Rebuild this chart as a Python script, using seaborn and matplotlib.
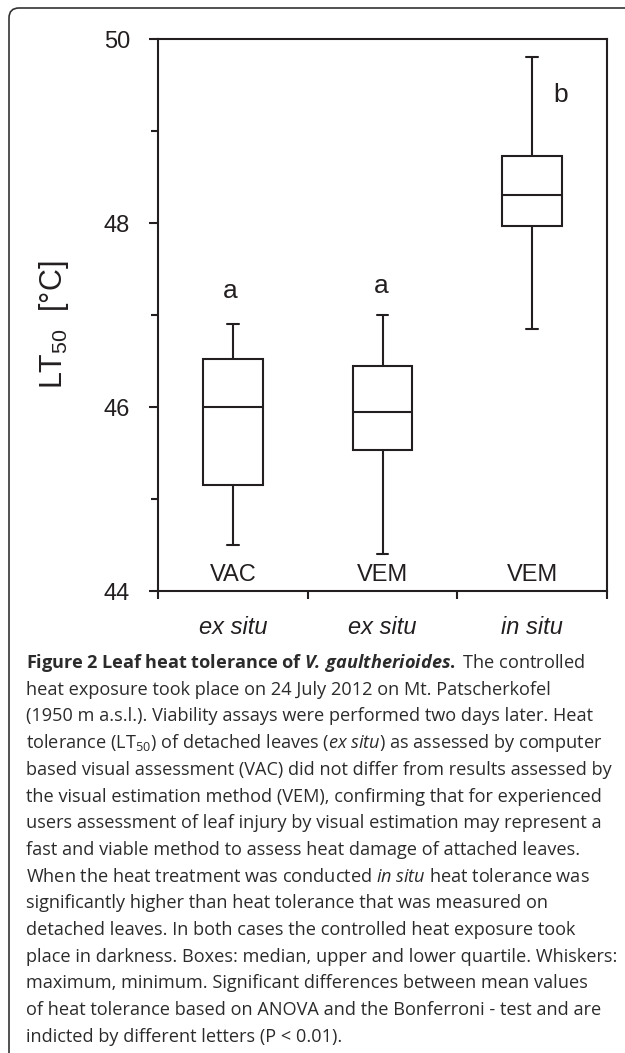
import numpy as np
import pandas as pd
import matplotlib
matplotlib.use("Agg")
import matplotlib.pyplot as plt
import seaborn as sns
from matplotlib.patches import FancyBboxPatch

# ---- data ----
groups = ["VAC ex situ", "VEM ex situ", "VEM in situ"]
situ_labels = ["ex situ", "ex situ", "in situ"]
method_labels = ["VAC", "VEM", "VEM"]
sig_letters = ["a", "a", "b"]

# min, lower quartile, median, upper quartile, max
vac_ex_situ = [44.50, 45.15, 46.00, 46.52, 46.90]
vem_ex_situ = [44.40, 45.53, 45.95, 46.45, 47.00]
vem_in_situ = [46.85, 47.97, 48.30, 48.73, 49.80]

letter_y = [47.18, 47.24, 49.32]
letter_dx = [-0.02, -0.01, 0.19]
method_y = 44.11

caption_lines = [
    r"$\mathbf{Figure\;2\;Leaf\;heat\;tolerance\;of\;}\mathbfit{V.\,gaultherioides}\mathbf{.}$ The controlled",
    "heat exposure took place on 24 July 2012 on Mt. Patscherkofel",
    "(1950 m a.s.l.). Viability assays were performed two days later. Heat",
    r"tolerance (LT$_\mathregular{50}$) of detached leaves ($\mathit{ex\;situ}$) as assessed by computer",
    "based visual assessment (VAC) did not differ from results assessed by",
    "the visual estimation method (VEM), confirming that for experienced",
    "users assessment of leaf injury by visual estimation may represent a",
    "fast and viable method to assess heat damage of attached leaves.",
    r"When the heat treatment was conducted $\mathit{in\;situ}$ heat tolerance was",
    "significantly higher than heat tolerance that was measured on",
    "detached leaves. In both cases the controlled heat exposure took",
    "place in darkness. Boxes: median, upper and lower quartile. Whiskers:",
    "maximum, minimum. Significant differences between mean values",
    "of heat tolerance based on ANOVA and the Bonferroni - test and are",
    "indicted by different letters (P < 0.01).",
]

df = pd.DataFrame({
    "group": np.repeat(groups, 5),
    "LT50": vac_ex_situ + vem_ex_situ + vem_in_situ,
})

# ---- style ----
sns.set_style("ticks")
ink = "#231f20"
cap_font = "Open Sans"
plt.rcParams["font.family"] = ["Liberation Sans", "DejaVu Sans"]
plt.rcParams["mathtext.fontset"] = "custom"
plt.rcParams["mathtext.rm"] = cap_font
plt.rcParams["mathtext.it"] = cap_font + ":italic"
plt.rcParams["mathtext.bf"] = cap_font + ":bold"
plt.rcParams["mathtext.bfit"] = cap_font + ":italic:bold"

W, H = 625, 1053
fig = plt.figure(figsize=(W / 100, H / 100), dpi=100)
ax = fig.add_axes([158 / W, 1 - 591 / H, 449 / W, 552 / H])

sns.boxplot(data=df, x="group", y="LT50", order=groups, whis=(0, 100),
            width=0.4, color="white", linecolor=ink, linewidth=1.5,
            fliersize=0, capwidths=0.08, ax=ax)

ax.set_xlim(-0.5, 2.5)
ax.set_ylim(44, 50)
ax.set_xlabel("")

for sp in ax.spines.values():
    sp.set_visible(True)
    sp.set_color(ink)
    sp.set_linewidth(1.5)

# y axis
ax.set_yticks([44, 46, 48, 50])
ax.set_yticks([45, 47, 49], minor=True)
ax.tick_params(axis="y", which="major", length=6.5, width=1.5, pad=13.7,
               labelsize=17, colors=ink)
ax.tick_params(axis="y", which="minor", length=5, width=1.5, colors=ink)
ax.set_ylabel("LT$_\\mathregular{50}$  [°C]", fontsize=22, color=ink)
ax.yaxis.label.set_va("center")
ax.yaxis.set_label_coords((54 - 158) / 449, (591 - 325) / 552)

# x axis: ticks at group boundaries, labels at centres
ax.set_xticks([-0.5, 0.5, 1.5, 2.5], labels=["", "", "", ""])
ax.set_xticks([0, 1, 2], labels=situ_labels, minor=True)
ax.tick_params(axis="x", which="major", length=6, width=1.5, colors=ink)
ax.tick_params(axis="x", which="minor", length=0, pad=18, labelsize=17,
               labelcolor=ink)
for lbl in ax.get_xticklabels(minor=True):
    lbl.set_style("italic")

for i in range(len(groups)):
    ax.text(i, method_y, method_labels[i], ha="center", va="baseline",
            fontsize=17, color=ink)
    ax.text(i + letter_dx[i], letter_y[i], sig_letters[i], ha="center",
            va="baseline", fontsize=19, color=ink)

# ---- caption: size chosen so the widest line fits the column ----
renderer = fig.canvas.get_renderer()
cap_size = 13.0
widest = 0
for line in caption_lines:
    probe = fig.text(0, 0, line, fontsize=cap_size, family=cap_font)
    widest = max(widest, probe.get_window_extent(renderer).width)
    probe.remove()
cap_size *= 588 / widest

for i, line in enumerate(caption_lines):
    y_px = 668 + 26.7 * i
    fig.text(26 / W, 1 - y_px / H, line, fontsize=cap_size, family=cap_font,
             color="#2b2b2b", va="baseline", ha="left")

frame = FancyBboxPatch((0.09, -1.0), 8.0, (H - 8) / 100 + 1.0,
                       boxstyle="round,pad=0,rounding_size=0.1",
                       transform=fig.dpi_scale_trans, facecolor="none",
                       edgecolor="#333333", linewidth=1.2, clip_on=False)
fig.add_artist(frame)

fig.savefig("out.png", dpi=100)
